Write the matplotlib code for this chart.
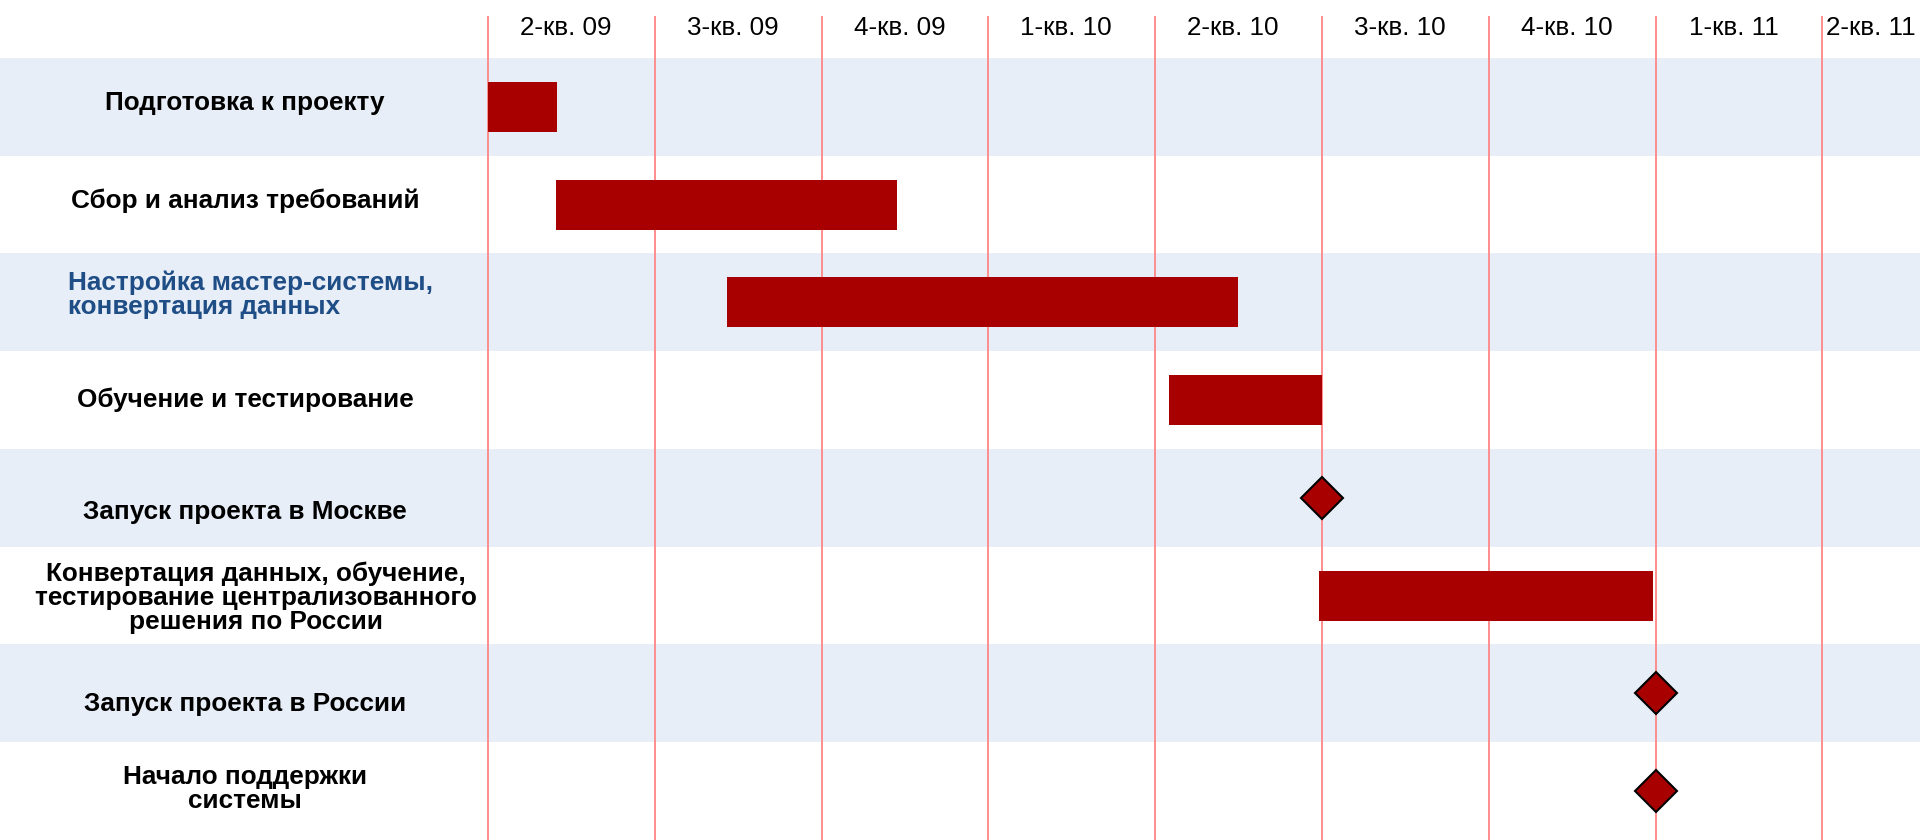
import matplotlib
matplotlib.use('Agg')
import matplotlib.pyplot as plt
import numpy as np

plt.rcParams['font.family'] = ['Liberation Sans', 'DejaVu Sans']

# tasks (months counted from the start of 2-кв. 09)
tasks = [
    'Подготовка к проекту',
    'Сбор и анализ требований',
    'Настройка мастер-системы,\nконвертация данных',
    'Обучение и тестирование',
    'Запуск проекта в Москве',
    'Конвертация данных, обучение,\nтестирование централизованного\nрешения по России',
    'Запуск проекта в России',
    'Начало поддержки\nсистемы',
]
task_start = [0.0, 1.22, 4.3, 12.25, 15.0, 14.95, 21.0, 21.0]
task_end = [1.24, 7.36, 13.49, 15.0, 15.0, 20.95, 21.0, 21.0]
milestone = [False, False, False, False, True, False, True, True]
highlight = [False, False, True, False, False, False, False, False]

quarters = ['2-кв. 09', '3-кв. 09', '4-кв. 09', '1-кв. 10', '2-кв. 10',
            '3-кв. 10', '4-кв. 10', '1-кв. 11', '2-кв. 11']

BAR = '#A80000'
BAND = '#E8EEF7'
GRID = '#FF8585'
BLUE = '#1F4E86'

# small nudges of the row labels, as in the original layout
label_dy = [-0.04, -0.04, -0.08, 0.0, 0.14, 0.02, 0.11, -0.02]
label_dx = [0.0, 0.0, 0.0, 0.0, 0.0, 0.2, 0.0, 0.0]

fig = plt.figure(figsize=(19.2, 8.4), dpi=100)
ax = fig.add_axes([0, 0, 1, 1])
ax.axis('off')

xmin, xmax = -8.777, 25.755
ax.set_xlim(xmin, xmax)
ax.set_ylim(len(tasks), -0.593)

# alternating bands
for i in range(len(tasks)):
    if i % 2 == 0:
        ax.axhspan(i, i + 1, color=BAND, zorder=0, lw=0)

# quarter lines
edges = np.arange(0, 3 * len(quarters), 3)
ax.vlines(edges, -0.43, len(tasks), color=GRID, lw=1.3, zorder=1)

# quarter labels
for k, q in enumerate(quarters):
    xc = edges[k] + 1.4
    if xc > xmax - 1.0:
        xc = (edges[k] + xmax) / 2
    ax.text(xc, -0.31, q, ha='center', va='center', fontsize=18.7, color='black')

# bars and milestones
y = np.arange(len(tasks)) + 0.5
for i in range(len(tasks)):
    if milestone[i]:
        ax.plot(task_start[i], y[i], marker='D', ms=21.5, mfc=BAR, mec='black',
                mew=1.5, zorder=3)
    else:
        ax.barh(y[i], task_end[i] - task_start[i], left=task_start[i], height=0.51,
                color=BAR, zorder=2)

# task labels
for i, t in enumerate(tasks):
    if highlight[i]:
        ax.text(-7.55, y[i] + label_dy[i], t, ha='left', va='center', fontsize=18.8,
                fontweight='bold', color=BLUE, linespacing=1.0)
    else:
        ax.text(-4.37 + label_dx[i], y[i] + label_dy[i], t, ha='center', va='center',
                fontsize=18.8, fontweight='bold', color='black', linespacing=1.0,
                multialignment='center')

fig.savefig('out.png', dpi=100)
